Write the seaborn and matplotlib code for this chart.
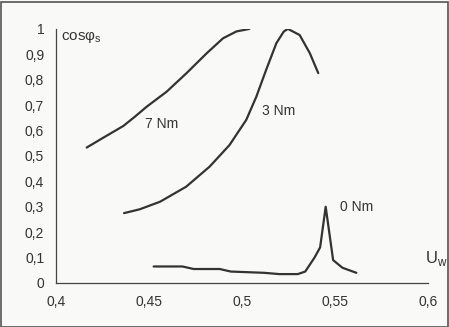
import numpy as np
import pandas as pd
import matplotlib
matplotlib.use("Agg")
import matplotlib.pyplot as plt
import seaborn as sns

# Data
u_7 = [0.4165, 0.425, 0.4362, 0.4425, 0.4488, 0.4595, 0.4702, 0.481, 0.4898, 0.497, 0.504]
cos_7 = [0.533, 0.57, 0.618, 0.655, 0.694, 0.753, 0.826, 0.904, 0.963, 0.99, 1.0]

u_3 = [0.4366, 0.445, 0.456, 0.470, 0.4826, 0.4933, 0.5023, 0.5077, 0.513, 0.5185, 0.5225, 0.5247, 0.531, 0.5365, 0.541]
cos_3 = [0.275, 0.29, 0.32, 0.379, 0.458, 0.543, 0.642, 0.733, 0.839, 0.944, 0.99, 1.0, 0.976, 0.904, 0.826]

u_0 = [0.4525, 0.468, 0.474, 0.488, 0.494, 0.512, 0.520, 0.530, 0.534, 0.539, 0.542, 0.545, 0.549, 0.554, 0.5615]
cos_0 = [0.065, 0.065, 0.055, 0.055, 0.045, 0.04, 0.035, 0.035, 0.045, 0.10, 0.14, 0.30, 0.09, 0.06, 0.04]

curve_names = ["7 Nm", "3 Nm", "0 Nm"]
x_ticks = [0.4, 0.45, 0.5, 0.55, 0.6]
x_tick_labels = ["0,4", "0,45", "0,5", "0,55", "0,6"]
y_ticks = [0, 0.1, 0.2, 0.3, 0.4, 0.5, 0.6, 0.7, 0.8, 0.9, 1.0]
y_tick_labels = ["0", "0,1", "0,2", "0,3", "0,4", "0,5", "0,6", "0,7", "0,8", "0,9", "1"]

frames = []
for name, u, c in zip(curve_names, [u_7, u_3, u_0], [cos_7, cos_3, cos_0]):
    frames.append(pd.DataFrame({"U": u, "cos": c, "curve": name}))
df = pd.concat(frames, ignore_index=True)

sns.set_theme(style="white")
plt.rcParams["font.family"] = ["Liberation Sans", "DejaVu Sans"]

fig = plt.figure(figsize=(4.49, 3.27), dpi=100)
fig.patch.set_facecolor("#f9f9f7")
ax = fig.add_axes([0.1247, 0.1346, 0.8285, 0.777])
ax.set_facecolor("#f9f9f7")

sns.lineplot(data=df, x="U", y="cos", hue="curve", units="curve", estimator=None, sort=False,
             palette={n: "#333333" for n in curve_names}, linewidth=1.6, legend=False, ax=ax)

ax.set_xlim(0.4, 0.6)
ax.set_ylim(0, 1.0)
ax.set_xticks(x_ticks)
ax.set_xticklabels(x_tick_labels, fontsize=10, color="#333333")
ax.set_yticks(y_ticks)
ax.set_yticklabels(y_tick_labels, fontsize=10, color="#333333")
ax.set_xlabel("")
ax.set_ylabel("")
for s in ["top", "right"]:
    ax.spines[s].set_visible(False)
for s in ["left", "bottom"]:
    ax.spines[s].set_color("#444444")
    ax.spines[s].set_linewidth(0.9)
ax.tick_params(axis="y", direction="inout", length=5, width=0.6, color="#777777", pad=6)
ax.tick_params(axis="x", direction="in", length=5, width=0.6, color="#999999", pad=9)

ax.text(0.4025, 0.97, "cosφ$_\\mathregular{s}$", fontsize=11, color="#333333", va="center", ha="left")
ax.text(0.5985, 0.095, "U$_\\mathregular{w}$", fontsize=12, color="#333333", va="center", ha="left", clip_on=False)
ax.text(0.448, 0.625, "7 Nm", fontsize=10, color="#333333", va="center", ha="left")
ax.text(0.511, 0.677, "3 Nm", fontsize=10, color="#333333", va="center", ha="left")
ax.text(0.5528, 0.30, "0 Nm", fontsize=10, color="#333333", va="center", ha="left")

# frame around the scan
fig.add_artist(plt.Rectangle((0.002, 0.0), 0.996, 0.995, transform=fig.transFigure,
                             fill=False, edgecolor="#555555", linewidth=1.2))

fig.savefig("out.png", dpi=100, facecolor=fig.get_facecolor())
